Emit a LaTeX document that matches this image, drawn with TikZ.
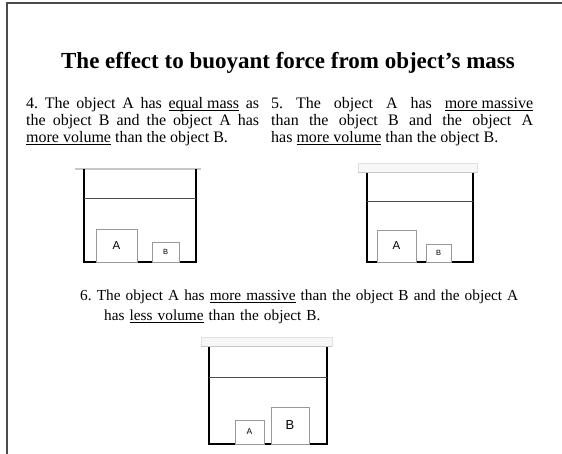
\documentclass[tikz,border=0pt]{standalone}
\usepackage{fontspec}
\setmainfont{Liberation Serif}
\newfontfamily\labelfont{Liberation Sans}
\frenchspacing
\newcommand\myul[1]{\underline{\smash{#1}}}
\tikzset{
  frameline/.style={draw=black!70, line width=2pt},
  titletext/.style={font=\bfseries\fontsize{23}{26}\selectfont, anchor=base, inner sep=0},
  coltext/.style={font=\fontsize{16}{16.8}\selectfont, anchor=north west, inner sep=0, align=justify},
  itemtext/.style={font=\fontsize{15.3}{20}\selectfont, anchor=north west, inner sep=0, align=left},
  wall/.style={draw=black, line width=1.8pt},
  water/.style={draw=black!70, line width=0.9pt},
  rim/.style={draw=black!12, fill=black!3, line width=0.8pt},
  rimline/.style={draw=black!22, line width=1.6pt},
  obj/.style={draw=black!40, line width=0.8pt, fill=white, inner sep=0, font=\labelfont},
}
\begin{document}
\begin{tikzpicture}[x=1pt,y=-1pt]
\useasboundingbox (0,0) rectangle (562,454);
% page frame
\coordinate (fb) at (7,454);
\coordinate (fc) at (7,3);
\coordinate (fr) at (562,3);
\draw[frameline] (fb) -- (fc) -- (fr);

\node[titletext] (title) at (288,69) {The effect to buoyant force from object’s mass};

\node[coltext, text width=233pt] (t4) at (26,97.5) {4. The object A has \myul{equal mass} as\linebreak the object B and the object A has\linebreak \myul{more volume} than the object B.};
\node[coltext, text width=262pt] (t5) at (271,97.5) {5. The object A has \myul{more massive}\linebreak than the object B and the object A\linebreak has \myul{more volume} than the object B.};
\node[itemtext, text width=470pt] (t6) at (80,289.5) {6. The object A has \myul{more massive} than the object B and the object A\\\hspace*{24pt}has \myul{less volume} than the object B.};

% tank 1
\draw[rimline] (75,169) -- (201,169);
\draw[wall] (84,169) -- (84,262) -- (196,262) -- (196,169);
\draw[water] (84,198) -- (196,198);
\node[obj, minimum width=41pt, minimum height=33pt, font=\labelfont\fontsize{11.5}{12}\selectfont] (a1) at (116.5,245.5) {A};
\node[obj, minimum width=27pt, minimum height=20pt, font=\labelfont\fontsize{7.5}{8}\selectfont] (b1) at (165.5,252) {B};

% tank 2
\draw[rim] (358,163) rectangle (477,172);
\draw[rimline] (358,172.5) -- (477,172.5);
\draw[wall] (367,173) -- (367,262) -- (473,262) -- (473,173);
\draw[water] (367,201) -- (473,201);
\node[obj, minimum width=39pt, minimum height=32pt, font=\labelfont\fontsize{11.5}{12}\selectfont] (a2) at (396.5,246) {A};
\node[obj, minimum width=25pt, minimum height=18pt, font=\labelfont\fontsize{7.5}{8}\selectfont] (b2) at (438.5,253) {B};

% tank 3
\draw[rim] (201,337) rectangle (332,346);
\draw[rimline] (201,346.5) -- (332,346.5);
\draw[wall] (209,347) -- (209,444) -- (327,444) -- (327,347);
\draw[water] (209,377) -- (327,377);
\node[obj, minimum width=29pt, minimum height=24pt, font=\labelfont\fontsize{8.5}{9}\selectfont] (a3) at (249.5,432) {A};
\node[obj, minimum width=38pt, minimum height=37pt, font=\labelfont\fontsize{13}{14}\selectfont] (b3) at (290,425.5) {B};
\end{tikzpicture}
\end{document}
